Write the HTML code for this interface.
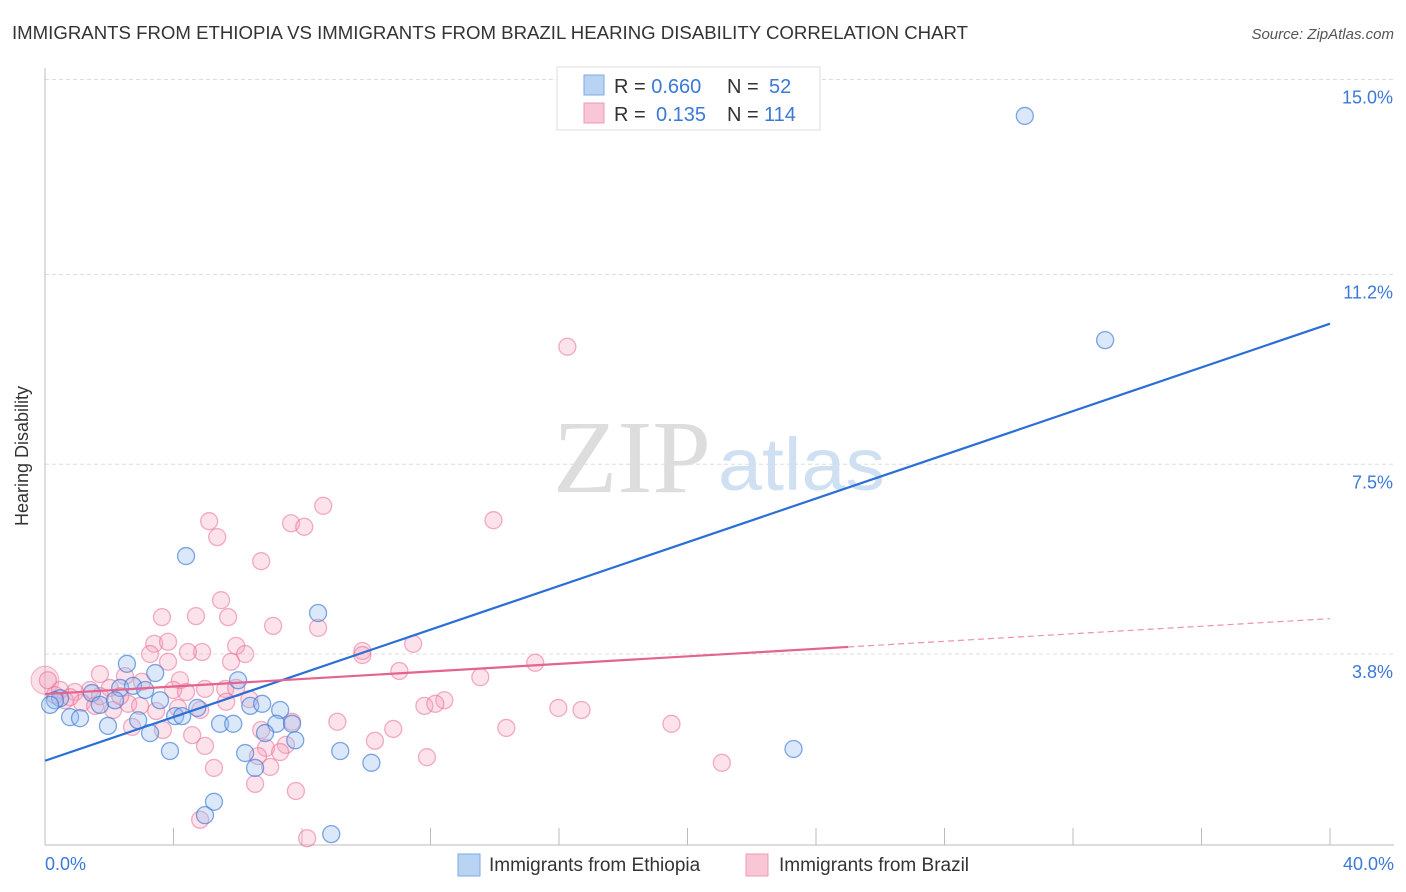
<!DOCTYPE html>
<html><head><meta charset="utf-8">
<style>
body{margin:0;background:#fff;font-family:"Liberation Sans",sans-serif;}
svg{display:block}
</style></head>
<body>
<svg id="chart" width="1406" height="892">
<text x="12" y="39" font-size="18" fill="#333" textLength="956" lengthAdjust="spacingAndGlyphs">IMMIGRANTS FROM ETHIOPIA VS IMMIGRANTS FROM BRAZIL HEARING DISABILITY CORRELATION CHART</text>
<text x="1394" y="39" font-size="15" fill="#555" font-style="italic" text-anchor="end">Source: ZipAtlas.com</text>
<g>
<text x="553" y="492" font-size="104" font-family="Liberation Serif,serif" fill="#ddd" textLength="158" lengthAdjust="spacingAndGlyphs">ZIP</text>
<text x="718" y="490" font-size="74" fill="#cfe0f3" textLength="167" lengthAdjust="spacingAndGlyphs">atlas</text>
</g>
<g id="grid"></g>
<line x1="45" y1="68" x2="45" y2="845" stroke="#bbb"/>
<line x1="45" y1="845" x2="1394" y2="845" stroke="#bbb"/>
<text x="28" y="456" font-size="18" fill="#333" text-anchor="middle" transform="rotate(-90 28 456)">Hearing Disability</text>
<text x="45" y="870" font-size="18" fill="#3b78d8">0.0%</text>
<text x="1394" y="870" font-size="18" fill="#3b78d8" text-anchor="end">40.0%</text>
<g id="points"></g>
<g id="lines"></g>
<g>
<rect x="557" y="67" width="263" height="63" fill="#fff" stroke="#ddd"/>
<rect x="584" y="75" width="20" height="20" fill="#b9d3f3" stroke="#7ea9e4"/>
<rect x="584" y="103" width="20" height="20" fill="#f8c6d5" stroke="#ee9bb5"/>
<text x="614" y="93" font-size="20" fill="#333">R = <tspan fill="#3b78d8">0.660</tspan><tspan x="727">N = </tspan><tspan x="769" fill="#3b78d8">52</tspan></text>
<text x="614" y="121" font-size="20" fill="#333">R = <tspan x="656" fill="#3b78d8">0.135</tspan><tspan x="727">N = </tspan><tspan x="764" fill="#3b78d8">114</tspan></text>
</g>
<g>
<rect x="458" y="854" width="22" height="22" fill="#b9d3f3" stroke="#7ea9e4"/>
<text x="489" y="871" font-size="19" fill="#333">Immigrants from Ethiopia</text>
<rect x="746" y="854" width="22" height="22" fill="#f8c6d5" stroke="#ee9bb5"/>
<text x="779" y="871" font-size="19" fill="#333">Immigrants from Brazil</text>
</g>
</svg>
<script>
const yTicks=[15.0,11.2,7.5,3.8];
const yTickLabels=["15.0%","11.2%","7.5%","3.8%"];
const xTicks=[0,4,8,12,16,20,24,28,32,36,40];
const ethX=[30.5,33.0,4.39,8.5,23.3,2.55,3.43,6.01,1.46,0.47,0.78,1.09,1.96,2.34,2.74,3.12,3.58,4.05,4.27,4.74,5.45,5.86,6.39,6.76,7.32,7.2,7.69,6.85,6.23,6.54,7.79,9.19,10.16,3.27,3.89,2.9,5.26,4.98,8.91,0.31,0.16,1.71,2.18];
const ethY=[14.29,9.92,5.71,4.6,1.95,3.61,3.43,3.29,3.04,2.94,2.57,2.55,2.40,3.14,3.18,3.10,2.90,2.59,2.59,2.75,2.44,2.44,2.79,2.83,2.71,2.44,2.44,2.26,1.87,1.58,2.12,1.91,1.68,2.26,1.91,2.51,0.92,0.66,0.29,2.9,2.81,2.81,2.9];
const brzX=[16.26,13.96,8.66,5.11,7.66,8.07,5.36,6.73,5.48,3.64,4.7,5.7,7.1,8.5,11.46,9.88,9.88,15.26,11.03,13.55,3.4,3.83,5.95,6.23,4.89,4.45,3.27,3.83,5.79,1.71,2.49,4.2,3.02,4.98,5.61,5.95,3.99,4.39,2.02,1.4,0.93,0.47,0.09,0.62,1.15,1.56,2.12,2.59,2.96,3.46,4.14,4.83,5.64,6.36,12.43,11.81,12.15,15.98,16.7,19.5,14.36,10.84,9.1,7.69,6.73,2.71,3.67,4.58,4.98,6.88,7.5,10.27,6.63,7.32,11.89,7.01,5.26,21.07,6.54,7.81,4.83,8.16,2.34,1.71,0.31,0.78];
const brzY=[9.79,6.41,6.69,6.39,6.35,6.28,6.08,5.61,4.85,4.52,4.54,4.52,4.35,4.31,4.0,3.86,3.78,3.63,3.47,3.35,4.0,4.04,3.96,3.8,3.84,3.84,3.8,3.65,3.65,3.41,3.37,3.29,3.26,3.12,3.12,3.14,3.1,3.06,3.14,3.1,3.06,3.1,3.29,2.9,2.85,2.79,2.71,2.83,2.79,2.69,2.75,2.71,2.87,2.92,2.9,2.79,2.83,2.75,2.71,2.44,2.36,2.34,2.48,2.48,2.32,2.38,2.32,2.22,2.01,1.97,2.03,2.11,1.81,1.89,1.79,1.6,1.58,1.68,1.27,1.13,0.57,0.21,2.98,2.98,3.0,2.96];
const ethTrend=[1.72,10.24];
const brzTrend=[3.02,4.49];
const brzSolidEnd=25;
const xs=v=>45+v*32.125;
const ys=v=>849-v*51.3;
const NS="http://www.w3.org/2000/svg";
function mk(t,a){const e=document.createElementNS(NS,t);for(const k in a)e.setAttribute(k,a[k]);return e;}
const grid=document.getElementById('grid');
yTicks.forEach((t,i)=>{
 const l=mk('line',{x1:45,x2:1394,y1:ys(t),y2:ys(t),stroke:'#ddd','stroke-dasharray':'4 3'});
 
 
 grid.appendChild(l);
 const tx=mk('text',{x:1393,y:ys(t)+24,'font-size':18,fill:'#3b78d8','text-anchor':'end'});
 tx.textContent=yTickLabels[i];
 
 
 grid.appendChild(tx);
});
xTicks.forEach(t=>{
 const l=mk('line',{x1:xs(t),x2:xs(t),y1:828,y2:845,stroke:'#bbb'});
 
 
 grid.appendChild(l);
});
const pts=document.getElementById('points');
const big=mk('circle',{cx:xs(0),cy:ys(3.29),r:14,fill:'rgba(240,150,180,0.3)',stroke:'rgba(230,110,150,0.5)'});


pts.appendChild(big);
brzX.forEach((x,i)=>{
 const c=mk('circle',{cx:xs(x),cy:ys(brzY[i]),r:8.5,fill:'rgba(244,160,188,0.3)',stroke:'rgba(232,110,150,0.55)','stroke-width':1.3});
 
 
 pts.appendChild(c);
});
ethX.forEach((x,i)=>{
 const c=mk('circle',{cx:xs(x),cy:ys(ethY[i]),r:8.5,fill:'rgba(150,190,240,0.35)',stroke:'rgba(60,120,210,0.65)','stroke-width':1.3});
 
 
 pts.appendChild(c);
});
const ln=document.getElementById('lines');
const bt=mk('line',{x1:xs(0),y1:ys(ethTrend[0]),x2:xs(40),y2:ys(ethTrend[1]),stroke:'#2a6fd6','stroke-width':2.2});


ln.appendChild(bt);
const pm=brzTrend[0]+(brzTrend[1]-brzTrend[0])*brzSolidEnd/40;
const pt=mk('line',{x1:xs(0),y1:ys(brzTrend[0]),x2:xs(brzSolidEnd),y2:ys(pm),stroke:'#e4638f','stroke-width':2.2});


ln.appendChild(pt);
const pd=mk('line',{x1:xs(brzSolidEnd),y1:ys(pm),x2:xs(40),y2:ys(brzTrend[1]),stroke:'#e4638f','stroke-width':1.2,'stroke-dasharray':'6 4',opacity:0.7});


ln.appendChild(pd);
</script>
</body></html>
